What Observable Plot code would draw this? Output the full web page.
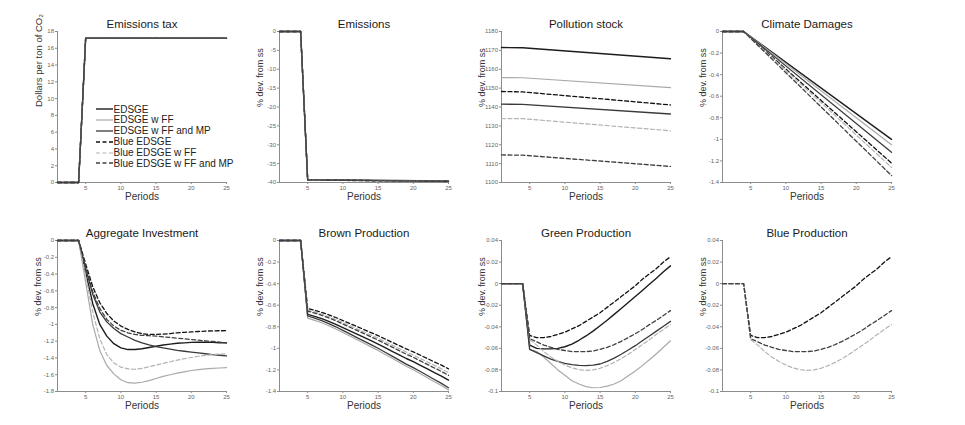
<!DOCTYPE html>
<html><head><meta charset="utf-8">
<script src="https://cdn.jsdelivr.net/npm/d3@7"></script>
<script src="https://cdn.jsdelivr.net/npm/@observablehq/plot@0.6"></script>
<style>
body{margin:0;background:#fff;font-family:"Liberation Sans",Arial,sans-serif;}
#wrap{position:relative;width:965px;height:425px;overflow:hidden;background:#fff;}
.panel{position:absolute;}
</style></head>
<body><div id="wrap"></div>
<script>
// ---------- series ----------
const seriesNames = ["EDSGE","EDSGE w FF","EDSGE w FF and MP","Blue EDSGE","Blue EDSGE w FF","Blue EDSGE w FF and MP"];
const seriesColors = ["#1c1c1c","#a9a9a9","#3a3a3a","#111111","#b3b3b3","#404040"];
const seriesDash = [null,null,null,"4,2.5","4,2.5","4,2.5"];
const seriesWidth = [1.4,1.2,1.3,1.3,1.2,1.3];

// ---------- x values / ticks ----------
const periods = [1,2,3,4,5,6,7,8,9,10,11,12,13,14,15,16,17,18,19,20,21,22,23,24,25];
const stepPeriods = [1,4,5,25];
const linePeriods = [1,4,25];
const xTicks = [5,10,15,20,25];

// ---------- y ticks ----------
const taxTicks = [0,2,4,6,8,10,12,14,16,18];
const emissionsTicks = [-40,-35,-30,-25,-20,-15,-10,-5,0];
const pollutionTicks = [1100,1110,1120,1130,1140,1150,1160,1170,1180];
const damagesTicks = [-1.4,-1.2,-1,-0.8,-0.6,-0.4,-0.2,0];
const investmentTicks = [-1.8,-1.6,-1.4,-1.2,-1,-0.8,-0.6,-0.4,-0.2,0];
const brownTicks = [-1.4,-1.2,-1,-0.8,-0.6,-0.4,-0.2,0];
const greenTicks = [-0.1,-0.08,-0.06,-0.04,-0.02,0,0.02,0.04];

// ---------- Emissions tax (periods 1,4,5,25) ----------
const taxLevel = [0,0,17.2,17.2];

// ---------- Emissions (periods 1,4,5,25) ----------
const emisEDSGE      = [0,0,-39.25,-39.6];
const emisFF         = [0,0,-39.3,-39.65];
const emisFFMP       = [0,0,-39.3,-39.7];
const emisBlue       = [0,0,-39.3,-39.7];
const emisBlueFF     = [0,0,-39.35,-39.75];
const emisBlueFFMP   = [0,0,-39.35,-39.75];

// ---------- Pollution stock (periods 1,4,25) ----------
const polEDSGE    = [1171.5,1171.4,1165.6];
const polFF       = [1155.6,1155.5,1150.3];
const polFFMP     = [1141.5,1141.4,1136.3];
const polBlue     = [1148.2,1148.0,1141.1];
const polBlueFF   = [1133.9,1133.8,1127.4];
const polBlueFFMP = [1114.6,1114.5,1108.5];

// ---------- Climate damages (periods 1,4,25) ----------
const dmgEDSGE    = [0,0,-1.0];
const dmgFF       = [0,0,-1.05];
const dmgFFMP     = [0,0,-1.12];
const dmgBlue     = [0,0,-1.22];
const dmgBlueFF   = [0,0,-1.26];
const dmgBlueFFMP = [0,0,-1.335];

// ---------- Aggregate investment (periods 1..25) ----------
const invEDSGE    = [0,0,0,0,-0.38,-0.75,-1.0,-1.14,-1.23,-1.28,-1.30,-1.30,-1.29,-1.275,-1.26,-1.245,-1.235,-1.225,-1.22,-1.215,-1.213,-1.213,-1.215,-1.218,-1.22];
const invFF       = [0,0,0,0,-0.5,-1.0,-1.31,-1.49,-1.59,-1.66,-1.695,-1.70,-1.69,-1.67,-1.645,-1.62,-1.60,-1.58,-1.565,-1.55,-1.54,-1.53,-1.525,-1.52,-1.515];
const invFFMP     = [0,0,0,0,-0.33,-0.64,-0.85,-0.97,-1.05,-1.11,-1.15,-1.19,-1.22,-1.245,-1.265,-1.28,-1.295,-1.31,-1.32,-1.33,-1.34,-1.35,-1.36,-1.368,-1.375];
const invBlue     = [0,0,0,0,-0.28,-0.55,-0.74,-0.87,-0.96,-1.02,-1.06,-1.09,-1.11,-1.12,-1.12,-1.115,-1.11,-1.10,-1.095,-1.09,-1.085,-1.08,-1.078,-1.076,-1.075];
const invBlueFF   = [0,0,0,0,-0.42,-0.85,-1.17,-1.36,-1.46,-1.51,-1.53,-1.535,-1.525,-1.505,-1.485,-1.465,-1.445,-1.425,-1.41,-1.395,-1.38,-1.37,-1.36,-1.355,-1.35];
const invBlueFFMP = [0,0,0,0,-0.32,-0.61,-0.81,-0.94,-1.02,-1.07,-1.10,-1.12,-1.13,-1.135,-1.14,-1.148,-1.156,-1.164,-1.172,-1.18,-1.188,-1.196,-1.204,-1.212,-1.22];

// ---------- Brown production (periods 1..25) ----------
const brEDSGE    = [0,0,0,0,-0.685,-0.703,-0.725,-0.749,-0.777,-0.807,-0.838,-0.868,-0.899,-0.929,-0.960,-0.993,-1.027,-1.060,-1.094,-1.124,-1.158,-1.191,-1.225,-1.258,-1.295];
const brFF       = [0,0,0,0,-0.72,-0.740,-0.763,-0.790,-0.820,-0.853,-0.886,-0.920,-0.953,-0.986,-1.019,-1.056,-1.092,-1.129,-1.166,-1.199,-1.235,-1.272,-1.309,-1.345,-1.385];
const brFFMP     = [0,0,0,0,-0.70,-0.720,-0.743,-0.770,-0.800,-0.833,-0.866,-0.900,-0.933,-0.966,-0.999,-1.036,-1.072,-1.109,-1.146,-1.179,-1.215,-1.252,-1.289,-1.325,-1.365];
const brBlue     = [0,0,0,0,-0.630,-0.647,-0.666,-0.689,-0.714,-0.742,-0.770,-0.798,-0.826,-0.854,-0.882,-0.913,-0.944,-0.974,-1.005,-1.033,-1.064,-1.095,-1.126,-1.156,-1.190];
const brBlueFF   = [0,0,0,0,-0.645,-0.662,-0.683,-0.706,-0.732,-0.761,-0.790,-0.819,-0.848,-0.877,-0.906,-0.938,-0.970,-1.002,-1.034,-1.063,-1.095,-1.126,-1.158,-1.190,-1.225];
const brBlueFFMP = [0,0,0,0,-0.655,-0.673,-0.694,-0.718,-0.744,-0.774,-0.804,-0.834,-0.863,-0.893,-0.923,-0.956,-0.988,-1.021,-1.054,-1.083,-1.116,-1.149,-1.182,-1.214,-1.250];

// ---------- Green production (periods 1..25) ----------
const grEDSGE    = [0,0,0,0,-0.057,-0.060,-0.0605,-0.0605,-0.060,-0.0585,-0.056,-0.0525,-0.0485,-0.044,-0.039,-0.034,-0.0285,-0.023,-0.0175,-0.012,-0.0063,-0.0005,0.005,0.011,0.0165];
const grFF       = [0,0,0,0,-0.061,-0.063,-0.068,-0.074,-0.080,-0.085,-0.090,-0.093,-0.0955,-0.0965,-0.0963,-0.095,-0.093,-0.090,-0.0855,-0.081,-0.076,-0.0705,-0.065,-0.059,-0.053];
const grFFMP     = [0,0,0,0,-0.061,-0.064,-0.067,-0.070,-0.072,-0.074,-0.075,-0.0758,-0.076,-0.0755,-0.0745,-0.072,-0.069,-0.0655,-0.0615,-0.0575,-0.053,-0.0485,-0.044,-0.0395,-0.035];
// Blue production (the blue-sector series, also drawn in Green production)
const blBlue     = [0,0,0,0,-0.048,-0.050,-0.050,-0.049,-0.047,-0.045,-0.042,-0.039,-0.035,-0.031,-0.027,-0.022,-0.017,-0.012,-0.007,-0.002,0.004,0.009,0.014,0.020,0.025];
const blBlueFF   = [0,0,0,0,-0.052,-0.057,-0.063,-0.068,-0.072,-0.0755,-0.078,-0.0798,-0.0805,-0.080,-0.0785,-0.076,-0.073,-0.0695,-0.0655,-0.061,-0.0565,-0.052,-0.047,-0.0425,-0.038];
const blBlueFFMP = [0,0,0,0,-0.051,-0.054,-0.057,-0.059,-0.061,-0.062,-0.063,-0.063,-0.063,-0.0625,-0.061,-0.059,-0.0565,-0.0535,-0.050,-0.0465,-0.0425,-0.038,-0.034,-0.0295,-0.025];

// ---------- panel definitions ----------
const devLabel = "% dev. from ss";
const panels = [
  {title:"Emissions tax", ylabel:"Dollars per ton of CO\u2082", x:stepPeriods, domain:[0,18], ticks:taxTicks,
   series:[taxLevel,taxLevel,taxLevel,taxLevel,taxLevel,taxLevel]},
  {title:"Emissions", ylabel:devLabel, x:stepPeriods, domain:[-40,0], ticks:emissionsTicks,
   series:[emisEDSGE,emisFF,emisFFMP,emisBlue,emisBlueFF,emisBlueFFMP]},
  {title:"Pollution stock", ylabel:devLabel, x:linePeriods, domain:[1100,1180], ticks:pollutionTicks,
   series:[polEDSGE,polFF,polFFMP,polBlue,polBlueFF,polBlueFFMP]},
  {title:"Climate Damages", ylabel:devLabel, x:linePeriods, domain:[-1.4,0], ticks:damagesTicks,
   series:[dmgEDSGE,dmgFF,dmgFFMP,dmgBlue,dmgBlueFF,dmgBlueFFMP]},
  {title:"Aggregate Investment", ylabel:devLabel, x:periods, domain:[-1.8,0], ticks:investmentTicks,
   series:[invEDSGE,invFF,invFFMP,invBlue,invBlueFF,invBlueFFMP]},
  {title:"Brown Production", ylabel:devLabel, x:periods, domain:[-1.4,0], ticks:brownTicks,
   series:[brEDSGE,brFF,brFFMP,brBlue,brBlueFF,brBlueFFMP]},
  {title:"Green Production", ylabel:devLabel, x:periods, domain:[-0.1,0.04], ticks:greenTicks,
   series:[grEDSGE,grFF,grFFMP,blBlue,blBlueFF,blBlueFFMP]},
  {title:"Blue Production", ylabel:devLabel, x:periods, domain:[-0.1,0.04], ticks:greenTicks,
   series:[null,null,null,blBlue,blBlueFF,blBlueFFMP]}
];

// ---------- layout ----------
const axisLefts = [57.3, 278.7, 500.8, 722.2];
const axisTops = [31, 240];
const mL = 40, mR = 8, mT = 30, mB = 30, plotW = 169, plotH = 151;
const fmt = d => String(Math.round(d * 1000) / 1000);
const fontFam = "'Liberation Sans', Arial, Helvetica, sans-serif";
const wrap = document.getElementById("wrap");

panels.forEach((p, i) => {
  const rows = [];
  p.series.forEach((vals, s) => {
    if (!vals) return;
    vals.forEach((v, k) => rows.push({s, x: p.x[k], y: v}));
  });
  const lineMarks = seriesNames.map((n, s) => {
    const data = rows.filter(r => r.s === s);
    if (!data.length) return null;
    const o = {x: "x", y: "y", stroke: seriesColors[s], strokeWidth: seriesWidth[s]};
    if (seriesDash[s]) o.strokeDasharray = seriesDash[s];
    return Plot.line(data, o);
  }).filter(Boolean);

  const svg = Plot.plot({
    width: mL + plotW + mR, height: mT + plotH + mB,
    marginLeft: mL, marginRight: mR, marginTop: mT, marginBottom: mB,
    x: {domain: [1, 25]},
    y: {domain: p.domain},
    style: {fontFamily: fontFam, background: "transparent", overflow: "visible"},
    marks: [
      Plot.axisX({ticks: xTicks, tickFormat: fmt, tickSize: 2, tickPadding: 1, fontSize: 6, label: null, stroke: "#8c8c8c", fill: "#666"}),
      Plot.axisY({ticks: p.ticks, tickFormat: fmt, tickSize: 2, tickPadding: 1.5, fontSize: 6, label: null, stroke: "#8c8c8c", fill: "#666"}),
      Plot.ruleX([1], {stroke: "#8c8c8c"}),
      Plot.ruleY([p.domain[0]], {stroke: "#8c8c8c"}),
      ...lineMarks,
      Plot.text([p.title], {text: d => d, frameAnchor: "top", dy: -7, fontSize: 11.5, fill: "#1a1a1a", lineAnchor: "middle"}),
      Plot.text(["Periods"], {text: d => d, frameAnchor: "bottom", dy: 13.8, fontSize: 10, fill: "#333", lineAnchor: "middle"}),
      Plot.text([p.ylabel], {text: d => d, frameAnchor: "left", dx: -19, rotate: -90, fontSize: i === 0 ? 9.5 : 9, fill: "#333", lineAnchor: "middle"})
    ]
  });
  svg.classList.add("panel");
  const col = i % 4, row = Math.floor(i / 4);
  svg.style.left = (axisLefts[col] - mL) + "px";
  svg.style.top = (axisTops[row] - mT) + "px";
  wrap.appendChild(svg);
});

// ---------- legend (inside first panel) ----------
const legend = document.createElement("div");
legend.style.cssText = `position:absolute;left:96px;top:103.6px;font:10px ${fontFam};color:#222;`;
seriesNames.forEach((n, s) => {
  const r = document.createElement("div");
  r.style.cssText = "display:flex;align-items:center;height:10.9px;white-space:nowrap;";
  r.innerHTML = `<svg width="17" height="6" style="margin-right:0.5px"><line x1="0" x2="17" y1="3" y2="3" stroke="${seriesColors[s]}" stroke-width="${seriesWidth[s]}" ${seriesDash[s] ? `stroke-dasharray="${seriesDash[s]}"` : ""}/></svg><span>${n}</span>`;
  legend.appendChild(r);
});
wrap.appendChild(legend);
</script>
</body></html>
